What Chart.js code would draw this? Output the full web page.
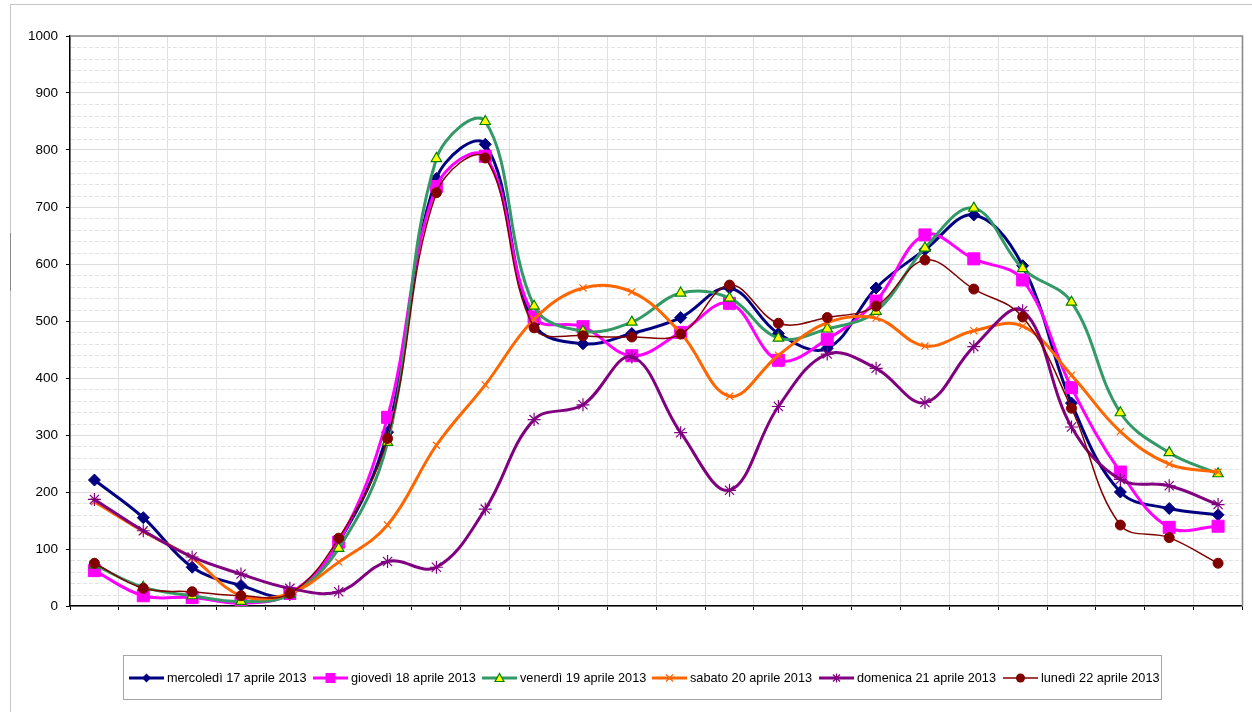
<!DOCTYPE html>
<html>
<head>
<meta charset="utf-8">
<script src="https://cdn.jsdelivr.net/npm/chart.js@4.4.1/dist/chart.umd.min.js"></script>
<style>
  html, body { margin: 0; padding: 0; background: #fff; }
  #wrap { position: relative; width: 1252px; height: 712px; overflow: hidden; }
  #c { position: absolute; left: 0; top: 0; }
  #frameL { position: absolute; left: 10px; top: 4px; width: 1px; height: 708px; background: #c4c4c4; }
  #frameLdark { position: absolute; left: 10px; top: 233px; width: 1px; height: 58px; background: #8a8a8a; }
  #frameT { position: absolute; left: 10px; top: 4px; width: 1242px; height: 1px; background: #c4c4c4; }
  #legend { position: absolute; left: 123px; top: 655px; width: 1037px; height: 43px; border: 1px solid #a6a6a6; }
  .item { position: absolute; top: 0; height: 43px; display: flex; align-items: center;
          font-family: "Liberation Sans", Arial, sans-serif; font-size: 12.7px; color: #000; white-space: nowrap; }
  .item svg { display: block; margin-right: 3px; }
</style>
</head>
<body>
<div id="wrap">
  <canvas id="c" width="1252" height="712"></canvas>
  <div id="frameL"></div><div id="frameLdark"></div><div id="frameT"></div>
  <div id="legend"></div>
</div>
<script>
// ---- data ----
const hours = ['0','1','2','3','4','5','6','7','8','9','10','11','12','13','14','15','16','17','18','19','20','21','22','23'];
const seriesNames = ['mercoledì 17 aprile 2013','giovedì 18 aprile 2013','venerdì 19 aprile 2013','sabato 20 aprile 2013','domenica 21 aprile 2013','lunedì 22 aprile 2013'];
const mercoledi = [221,155,68,36,20,112,305,750,810,495,460,478,506,558,478,452,558,625,686,597,356,200,171,160];
const giovedi   = [62,18,15,5,22,112,331,736,789,507,490,439,480,531,431,468,535,651,609,572,383,235,138,140];
const venerdi   = [72,33,18,8,20,101,287,785,850,526,482,498,549,540,470,486,517,628,698,592,533,339,269,232];
const sabato    = [183,131,84,18,22,77,142,282,388,503,558,551,479,368,440,497,505,456,483,491,405,306,249,235];
const domenica  = [187,132,86,56,31,25,78,68,170,327,353,437,304,203,350,442,417,357,455,518,314,222,211,178];
const lunedi    = [75,31,25,18,22,119,294,725,786,488,474,472,477,563,496,506,526,607,556,507,347,142,120,75];
const yTicks = [0,100,200,300,400,500,600,700,800,900,1000];

// ---- styles ----
const styles = [
  {color:'#000080', bg:'#000080', pbc:'#000080', ps:'rectRot', r:6, bw:3, pbw:1},
  {color:'#FF00FF', bg:'#FF00FF', pbc:'#FF00FF', ps:'rect', r:8.5, bw:3, pbw:1},
  {color:'#339966', bg:'#FFFF00', pbc:'#008000', ps:'triangle', r:6, bw:3, pbw:1.2},
  {color:'#FF6600', bg:'#FF6600', pbc:'#FF6600', ps:'crossRot', r:5, bw:3, pbw:1.2},
  {color:'#800080', bg:'#800080', pbc:'#800080', ps:'star', r:6.5, bw:3, pbw:1.2},
  {color:'#800000', bg:'#800000', pbc:'#800000', ps:'circle', r:5, bw:1.5, pbw:1}
];
const allData = [mercoledi, giovedi, venerdi, sabato, domenica, lunedi];

const datasets = allData.map((d, i) => ({
  label: seriesNames[i],
  data: d,
  borderColor: styles[i].color,
  borderWidth: styles[i].bw,
  backgroundColor: styles[i].bg,
  pointStyle: styles[i].ps,
  pointRadius: styles[i].r,
  pointBackgroundColor: styles[i].bg,
  pointBorderColor: styles[i].pbc,
  pointBorderWidth: styles[i].pbw,
  tension: 0.38,
  fill: false,
  order: allData.length - 1 - i
}));

const minorGrid = {
  id: 'minorGrid',
  beforeDatasetsDraw(chart) {
    const {ctx, chartArea: a, scales: {y}} = chart;
    ctx.save();
    ctx.strokeStyle = '#e2e2e2';
    ctx.lineWidth = 1;
    ctx.setLineDash([4, 2]);
    for (let v = 20; v < 1000; v += 20) {
      if (v % 100 === 0) continue;
      const py = Math.round(y.getPixelForValue(v)) + 0.5;
      ctx.beginPath(); ctx.moveTo(a.left + 1, py); ctx.lineTo(a.right, py); ctx.stroke();
    }
    ctx.setLineDash([]);
    ctx.strokeStyle = '#8c8c8c';
    ctx.lineWidth = 1.6;
    ctx.beginPath();
    ctx.moveTo(a.left, a.top); ctx.lineTo(a.right, a.top); ctx.lineTo(a.right, a.bottom);
    ctx.stroke();
    ctx.restore();
  }
};

new Chart(document.getElementById('c'), {
  type: 'line',
  data: { labels: hours, datasets },
  plugins: [minorGrid],
  options: {
    responsive: false,
    animation: false,
    devicePixelRatio: 1,
    layout: { padding: { left: 0, top: 36, right: 7, bottom: 96 } },
    plugins: { legend: { display: false }, tooltip: { enabled: false } },
    scales: {
      x: {
        type: 'category',
        offset: true,
        grid: { offset: true, color: '#e0e0e0', lineWidth: 1, drawTicks: true, tickLength: 4, tickColor: '#000' },
        border: { color: '#000', width: 1.5 },
        ticks: { display: false },
        afterFit(s) { s.height = 10; }
      },
      y: {
        min: 0, max: 1000,
        afterBuildTicks(s) { s.ticks = yTicks.map(v => ({value: v})); },
        grid: { color: '#dcdcdc', lineWidth: 1, tickLength: 4, tickColor: '#000' },
        border: { color: '#000', width: 1.5 },
        ticks: { padding: 8, color: '#000', font: { family: 'Liberation Sans, Arial, sans-serif', size: 13.5 },
                 callback: v => String(v) },
        afterFit(s) { s.width = 70; }
      }
    }
  }
});

// ---- HTML legend ----
const legendX = [129, 313, 482, 652, 819, 1003];
function markerSvg(st) {
  const c = st.color, lw = st.bw, cx = 17.5, cy = 7;
  let m = '';
  switch (st.ps) {
    case 'rectRot': m = `<polygon points="${cx},${cy-4.5} ${cx+4.5},${cy} ${cx},${cy+4.5} ${cx-4.5},${cy}" fill="${st.bg}"/>`; break;
    case 'rect': m = `<rect x="${cx-5}" y="${cy-5}" width="10" height="10" fill="${st.bg}"/>`; break;
    case 'triangle': m = `<polygon points="${cx},${cy-4.5} ${cx+4.5},${cy+3.5} ${cx-4.5},${cy+3.5}" fill="${st.bg}" stroke="${st.pbc}" stroke-width="1.2"/>`; break;
    case 'crossRot': m = `<path d="M${cx-3.5} ${cy-3.5}L${cx+3.5} ${cy+3.5}M${cx+3.5} ${cy-3.5}L${cx-3.5} ${cy+3.5}" stroke="${c}" stroke-width="1.2"/>`; break;
    case 'star': m = `<path d="M${cx-3.5} ${cy-3.5}L${cx+3.5} ${cy+3.5}M${cx+3.5} ${cy-3.5}L${cx-3.5} ${cy+3.5}M${cx} ${cy-4.5}L${cx} ${cy+4.5}" stroke="${c}" stroke-width="1.2"/>`; break;
    case 'circle': m = `<circle cx="${cx}" cy="${cy}" r="4.5" fill="${st.bg}"/>`; break;
  }
  return `<svg width="35" height="14" viewBox="0 0 35 14"><line x1="0" y1="${cy}" x2="35" y2="${cy}" stroke="${c}" stroke-width="${lw}"/>${m}</svg>`;
}
const lg = document.getElementById('legend');
seriesNames.forEach((name, i) => {
  const d = document.createElement('div');
  d.className = 'item';
  d.style.left = (legendX[i] - 124) + 'px';
  d.innerHTML = markerSvg(styles[i]) + '<span>' + name + '</span>';
  lg.appendChild(d);
});
</script>
</body>
</html>
